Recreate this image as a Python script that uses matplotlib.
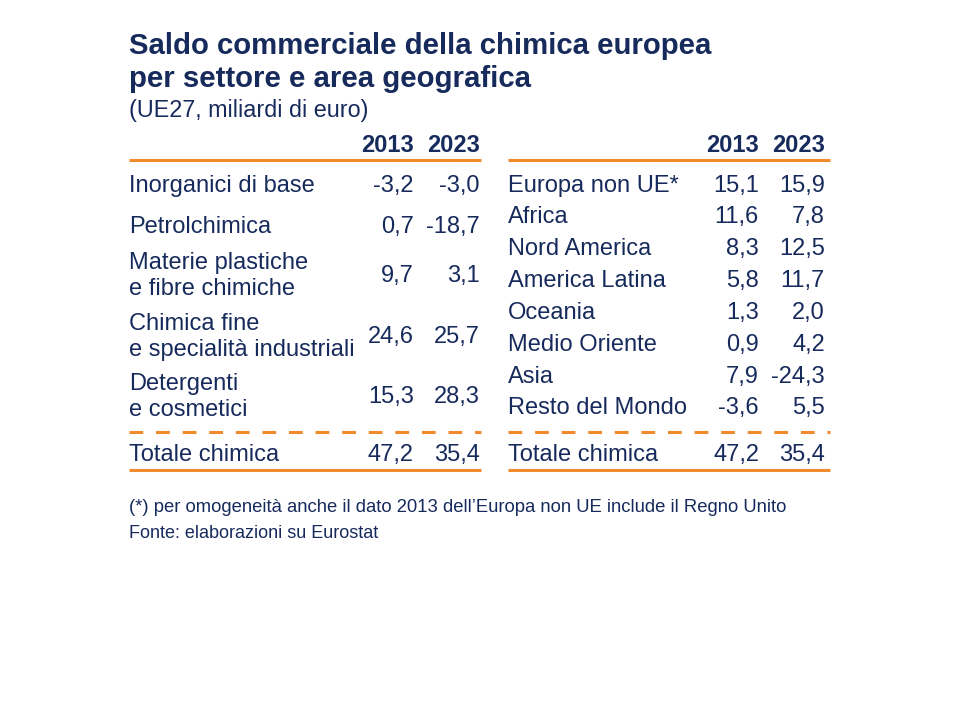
import matplotlib
matplotlib.use("Agg")
import matplotlib.pyplot as plt

plt.rcParams['font.family'] = ['Liberation Sans', 'DejaVu Sans']

title_lines = ["Saldo commerciale della chimica europea", "per settore e area geografica"]
subtitle = "(UE27, miliardi di euro)"
years = ["2013", "2023"]

sector_labels = ["Inorganici di base", "Petrolchimica", "Materie plastiche\ne fibre chimiche",
                 "Chimica fine\ne specialità industriali", "Detergenti\ne cosmetici"]
sector_2013 = ["-3,2", "0,7", "9,7", "24,6", "15,3"]
sector_2023 = ["-3,0", "-18,7", "3,1", "25,7", "28,3"]

area_labels = ["Europa non UE*", "Africa", "Nord America", "America Latina", "Oceania",
               "Medio Oriente", "Asia", "Resto del Mondo"]
area_2013 = ["15,1", "11,6", "8,3", "5,8", "1,3", "0,9", "7,9", "-3,6"]
area_2023 = ["15,9", "7,8", "12,5", "11,7", "2,0", "4,2", "-24,3", "5,5"]

total_label = "Totale chimica"
total_2013 = "47,2"
total_2023 = "35,4"

footnote = "(*) per omogeneità anche il dato 2013 dell\u2019Europa non UE include il Regno Unito"
source = "Fonte: elaborazioni su Eurostat"

NAVY = "#172a5c"
ORANGE = "#f08a2c"

fig = plt.figure(figsize=(9.6, 7.2), dpi=100)
ax = fig.add_axes([0, 0, 1, 1])
ax.set_xlim(0, 960)
ax.set_ylim(720, 0)
ax.axis('off')

# Title
ax.text(129, 46, title_lines[0], fontsize=21.2, fontweight='bold', color=NAVY, va='center', ha='left')
ax.text(129, 79, title_lines[1], fontsize=21.2, fontweight='bold', color=NAVY, va='center', ha='left')
ax.text(129, 111, subtitle, fontsize=16.8, color=NAVY, va='center', ha='left')

fs = 17.0
LINE_GAP = 26

def table(x0, x1, xv1, xv2, labels, v1, v2, ys):
    ax.text(xv1, 146, years[0], fontsize=fs, fontweight='bold', color=NAVY, ha='right', va='center')
    ax.text(xv2, 146, years[1], fontsize=fs, fontweight='bold', color=NAVY, ha='right', va='center')
    ax.plot([x0, x1], [160, 160], color=ORANGE, lw=2.2, solid_capstyle='butt')
    for lab, a, b, y in zip(labels, v1, v2, ys):
        parts = lab.split("\n")
        n = len(parts)
        for i, p in enumerate(parts):
            yy = y + (i - (n - 1) / 2) * LINE_GAP
            ax.text(x0, yy, p, fontsize=fs, color=NAVY, ha='left', va='center')
        ax.text(xv1, y, a, fontsize=fs, color=NAVY, ha='right', va='center')
        ax.text(xv2, y, b, fontsize=fs, color=NAVY, ha='right', va='center')
    ax.plot([x0, x1], [432, 432], color=ORANGE, lw=2.2, dashes=(4.5, 4.2))
    ax.text(x0, 455, total_label, fontsize=fs, color=NAVY, ha='left', va='center')
    ax.text(xv1, 455, total_2013, fontsize=fs, color=NAVY, ha='right', va='center')
    ax.text(xv2, 455, total_2023, fontsize=fs, color=NAVY, ha='right', va='center')
    ax.plot([x0, x1], [470, 470], color=ORANGE, lw=2.2, solid_capstyle='butt')

table(129, 481, 414, 480, sector_labels, sector_2013, sector_2023,
      [186, 227, 276, 337, 397])
table(508, 830, 759, 825, area_labels, area_2013, area_2023,
      [186, 217, 249, 281, 313, 345, 377, 408])

ax.text(129, 508, footnote, fontsize=13.3, color=NAVY, ha='left', va='center')
ax.text(129, 534, source, fontsize=13.0, color=NAVY, ha='left', va='center')

fig.savefig("out.png", dpi=100)
